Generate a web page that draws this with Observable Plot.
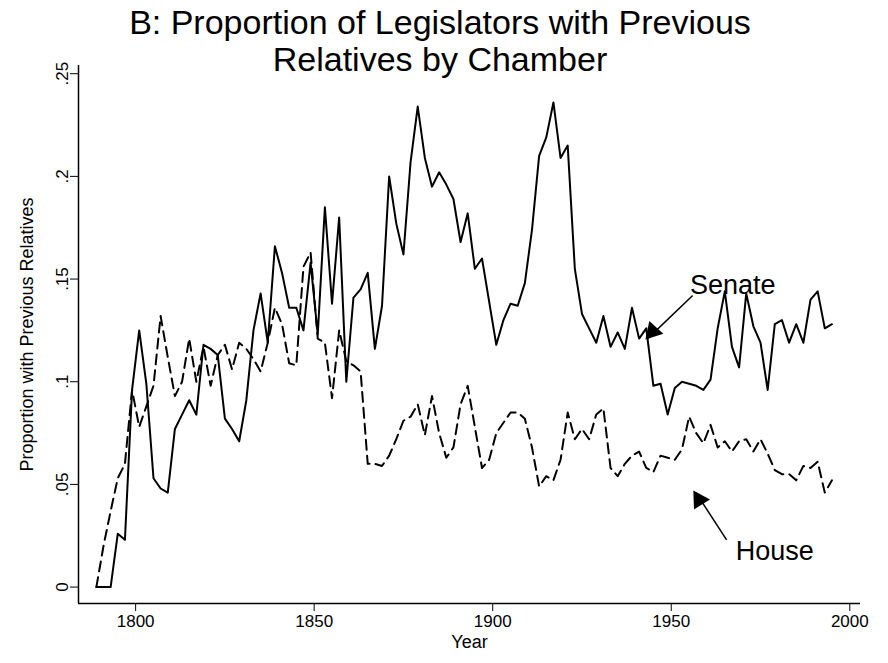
<!DOCTYPE html>
<html>
<head>
<meta charset="utf-8">
<script src="https://cdn.jsdelivr.net/npm/d3@7"></script>
<script src="https://cdn.jsdelivr.net/npm/@observablehq/plot@0.6"></script>
<style>
  body { margin: 0; background: #fff; font-family: "Liberation Sans", Arial, sans-serif; }
  #wrap { position: relative; width: 888px; height: 663px; }
  #title { position: absolute; left: 0; top: 4px; width: 880px; text-align: center; font-size: 34px; line-height: 37px; color: #000; }
  #chart svg g[aria-label="y-axis label"] text, #chart svg g[aria-label="x-axis label"] text { font-size: 18px; }
</style>
</head>
<body>
<div id="wrap">
  <div id="title">B: Proportion of Legislators with Previous<br>Relatives by Chamber</div>
  <div id="chart"></div>
</div>
<script>
// one value per Congress, every two years from 1789
var startYear = 1789;
var senate = [0, 0, 0, .026, .023, .096, .125, .099, .053, .048, .046, .077, .084, .091, .084, .118,
  .116, .113, .082, .077, .071, .091, .125, .143, .119, .166, .153, .136, .136, .125, .158, .123,
  .185, .138, .180, .100, .141, .145, .153, .116, .137, .200, .177, .162, .207, .234, .209, .195,
  .202, .196, .189, .168, .182, .155, .160, .139, .118, .130, .138, .137, .148, .174, .210, .219,
  .236, .209, .215, .155, .133, .126, .119, .132, .117, .124, .116, .136, .121, .126, .098, .099,
  .084, .097, .100, .099, .098, .096, .101, .126, .144, .117, .107, .143, .127, .119, .096, .128,
  .130, .119, .128, .119, .140, .144, .126, .128];
var house = [0, .02, .037, .053, .060, .096, .078, .088, .098, .132, .112, .093, .100, .121, .100, .117,
  .098, .113, .118, .106, .119, .116, .111, .105, .119, .136, .128, .109, .108, .156, .163, .121,
  .119, .092, .125, .110, .108, .105, .060, .060, .059, .064, .072, .081, .083, .089, .074, .093,
  .075, .063, .068, .089, .098, .078, .058, .062, .075, .080, .085, .085, .082, .068, .049, .054,
  .052, .062, .085, .072, .077, .072, .084, .087, .058, .054, .060, .064, .066, .058, .056, .064,
  .063, .062, .067, .083, .075, .070, .079, .068, .071, .066, .071, .072, .066, .072, .065, .057,
  .055, .055, .052, .059, .058, .061, .046, .052];
var yTicks = [0, .05, .1, .15, .2, .25];
var xTicks = [1800, 1850, 1900, 1950, 2000];
var labels = [{name: "Senate", x: 1967.2, y: .147}, {name: "House", x: 1979, y: .0175}];
// arrow lines and their filled heads (head centre sits a little back from the tip)
var arrows = [{x1: 1956, y1: .142, x2: 1943.4, y2: .121}, {x1: 1965.5, y1: .023, x2: 1956.9, y2: .046}];
var heads = [{x: 1944.8, y: .1245, angle: 222}, {x: 1957.8, y: .0425, angle: 328}];

var rows = [];
senate.forEach((v, i) => rows.push({year: startYear + 2 * i, value: v, chamber: "Senate"}));
house.forEach((v, i) => rows.push({year: startYear + 2 * i, value: v, chamber: "House"}));

var xMin = 1784, yMin = -0.008;
var plot = Plot.plot({
  width: 888,
  height: 663,
  marginTop: 65,
  marginLeft: 78,
  marginRight: 28,
  marginBottom: 60,
  style: {fontFamily: "Liberation Sans, Arial, sans-serif", fontSize: "17px", color: "#000", background: "#fff"},
  x: {domain: [xMin, 2003], ticks: xTicks, tickFormat: d => String(d), tickSize: 8, label: "Year", labelArrow: "none", labelAnchor: "center", labelOffset: 44},
  y: {domain: [yMin, .254], ticks: yTicks, tickFormat: d => d === 0 ? "0" : String(d).replace(/^0/, ""), tickSize: 8, tickRotate: -90,
      label: "Proportion with Previous Relatives", labelArrow: "none", labelAnchor: "center", labelOffset: 58},
  marks: [
    Plot.ruleX([xMin], {strokeWidth: 1.5}),
    Plot.ruleY([yMin], {strokeWidth: 1.5}),
    Plot.line(rows.filter(d => d.chamber === "Senate"), {x: "year", y: "value", stroke: "#000", strokeWidth: 2}),
    Plot.line(rows.filter(d => d.chamber === "House"), {x: "year", y: "value", stroke: "#000", strokeWidth: 2, strokeDasharray: "10,6"}),
    Plot.link(arrows, {x1: "x1", y1: "y1", x2: "x2", y2: "y2", stroke: "#000", strokeWidth: 1.5}),
    Plot.dot(heads, {x: "x", y: "y", symbol: "triangle", r: 7, fill: "#000", stroke: "none", rotate: "angle"}),
    Plot.text(labels, {x: "x", y: "y", text: "name", fontSize: 27, fill: "#000"})
  ]
});
document.getElementById("chart").appendChild(plot);
</script>
</body>
</html>
